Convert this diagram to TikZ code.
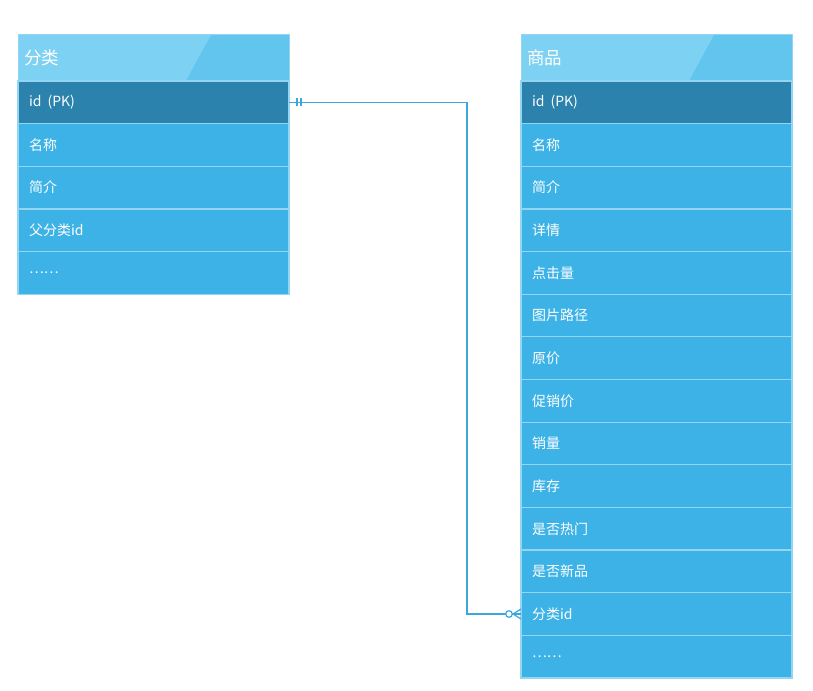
\documentclass[tikz,border=0pt]{standalone}
\usepackage{fontspec}
\setmainfont{Noto Sans CJK SC}
\usetikzlibrary{positioning, calc}

\definecolor{headlight}{HTML}{7DD1F2}
\definecolor{headdark}{HTML}{62C5EE}
\definecolor{keyrow}{HTML}{2A82AD}
\definecolor{rowblue}{HTML}{3DB2E6}
\definecolor{rowline}{HTML}{93D5F3}
\definecolor{linkblue}{HTML}{3AA8DC}

\tikzset{
  head/.style={anchor=north west, fill=headlight, draw=rowline, line width=1pt, outer sep=0pt,
    minimum width=271pt, minimum height=46pt, inner xsep=6pt, text width=259pt, align=left,
    text=white, font=\fontsize{17.5}{20}\selectfont,
    path picture={\fill[headdark] ($(path picture bounding box.north west)+(193pt,0pt)$)
      -- (path picture bounding box.north east) -- (path picture bounding box.south east)
      -- ($(path picture bounding box.south west)+(168pt,0pt)$) -- cycle;}},
  row/.style={below=0pt of #1, fill=rowblue, draw=rowline, line width=1.2pt, outer sep=0pt,
    minimum width=271pt, minimum height=42.64pt, inner xsep=11pt, text width=249pt, align=left,
    text=white, font=\fontsize{14}{16}\selectfont},
  keyrow/.style={row=#1, fill=keyrow},
  link/.style={draw=linkblue, line width=1.2pt}
}

\begin{document}
\begin{tikzpicture}[x=1pt, y=-1pt]
\useasboundingbox (0,0) rectangle (813,690);

% category table
\node[head] (ch) at (18,35) {分类};
\node[keyrow=ch] (c1) {id\hspace{6pt}(PK)};
\node[row=c1] (c2) {名称};
\node[row=c2] (c3) {简介};
\node[row=c3] (c4) {父分类id};
\node[row=c4] (c5) {……};

% goods table
\node[head] (gh) at (521,35) {商品};
\node[keyrow=gh] (g1) {id\hspace{6pt}(PK)};
\node[row=g1] (g2) {名称};
\node[row=g2] (g3) {简介};
\node[row=g3] (g4) {详情};
\node[row=g4] (g5) {点击量};
\node[row=g5] (g6) {图片路径};
\node[row=g6] (g7) {原价};
\node[row=g7] (g8) {促销价};
\node[row=g8] (g9) {销量};
\node[row=g9] (g10) {库存};
\node[row=g10] (g11) {是否热门};
\node[row=g11] (g12) {是否新品};
\node[row=g12] (g13) {分类id};
\node[row=g13] (g14) {……};

% one to many link
\coordinate (bend) at (467,0);
\draw[link] (c1.east) -- (c1.east -| bend) -- (g13.west -| bend) -- (g13.west);
\draw[link] ($(c1.east)+(8pt,-4pt)$) -- ($(c1.east)+(8pt,4pt)$);
\draw[link] ($(c1.east)+(12pt,-4pt)$) -- ($(c1.east)+(12pt,4pt)$);
\draw[link] ($(g13.west)+(-8pt,0pt)$) -- ($(g13.west)+(0pt,5pt)$);
\draw[link] ($(g13.west)+(-8pt,0pt)$) -- ($(g13.west)+(0pt,-5pt)$);
\draw[link, fill=white] ($(g13.west)+(-12pt,0pt)$) circle (3.3pt);
\end{tikzpicture}
\end{document}
